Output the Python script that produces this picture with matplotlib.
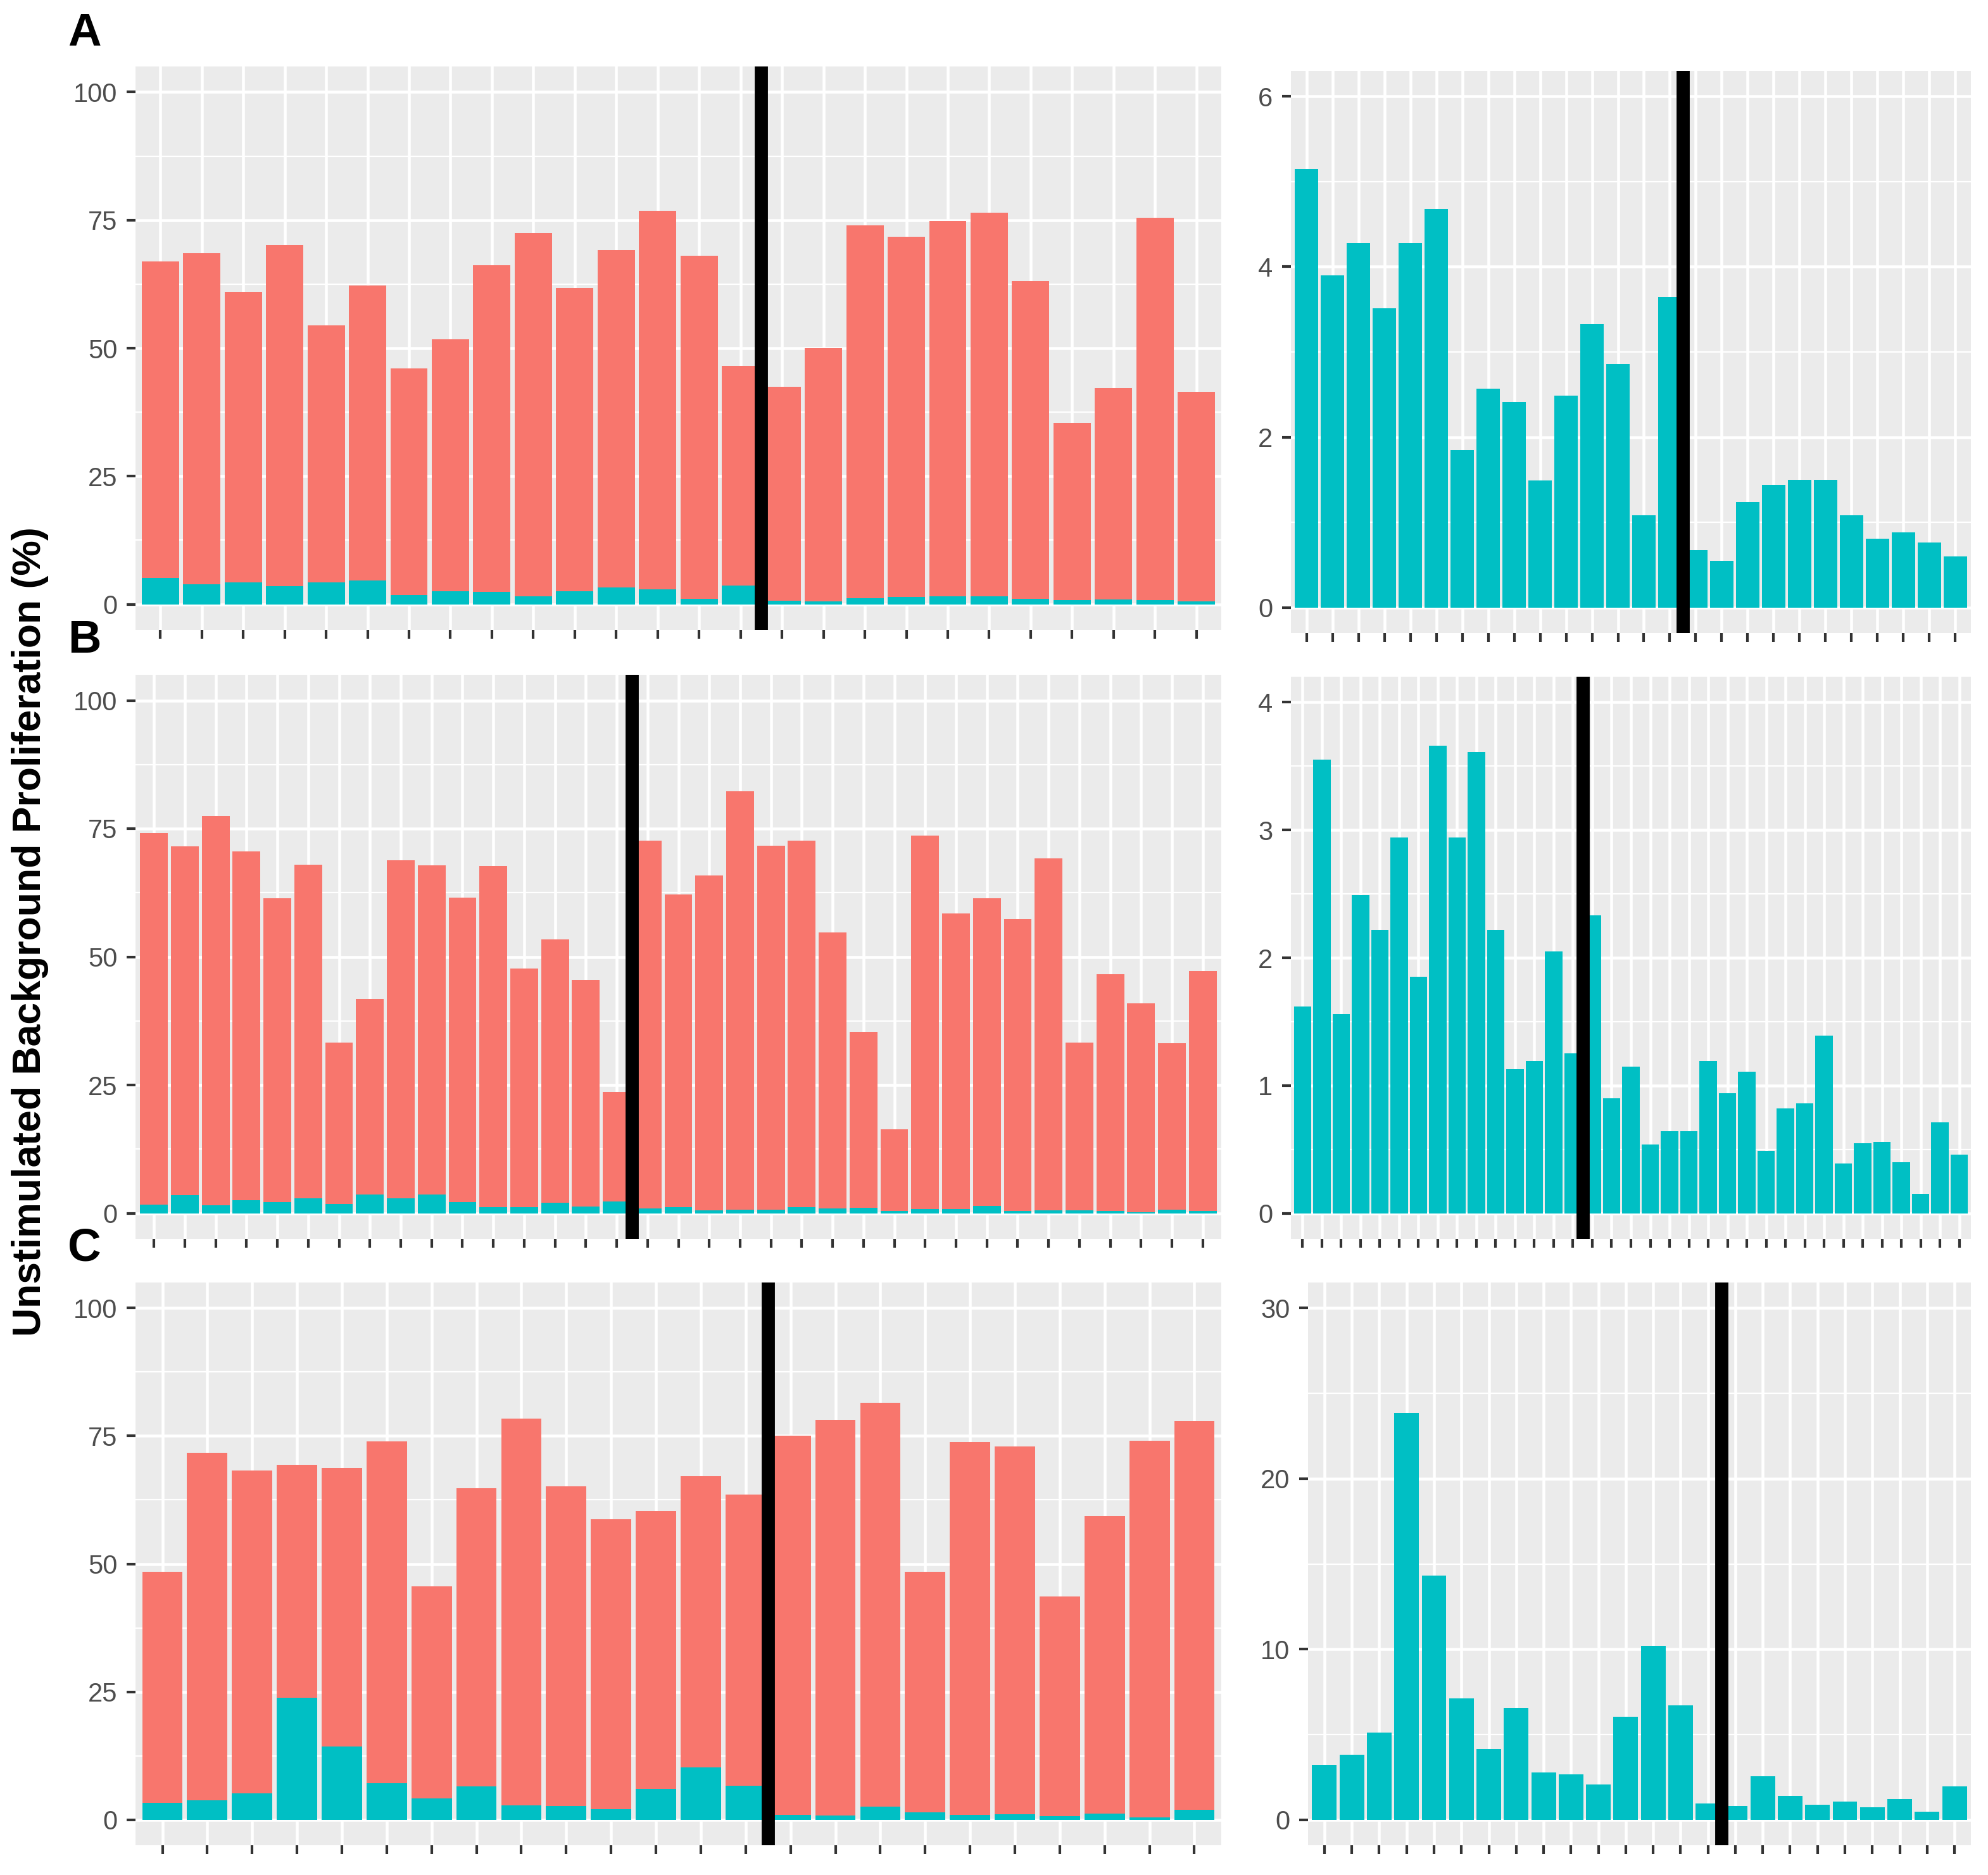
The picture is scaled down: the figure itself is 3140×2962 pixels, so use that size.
import matplotlib
matplotlib.use("Agg")
import matplotlib.pyplot as plt
import numpy as np

plt.rcParams['font.family'] = ['Liberation Sans', 'DejaVu Sans']

# totals (salmon) and unstimulated part (cyan) for each donor
a_total = [66.9, 68.6, 61.0, 70.2, 54.4, 62.2, 46.0, 51.7, 66.2, 72.5, 61.7, 69.1, 76.8,
           68.1, 46.6, 42.4, 50.0, 74.0, 71.8, 74.9, 76.5, 63.1, 35.4, 42.2, 75.4, 41.5]
a_cyan = [5.15, 3.90, 4.28, 3.51, 4.28, 4.68, 1.85, 2.57, 2.41, 1.49, 2.49, 3.33, 2.86,
          1.08, 3.65, 0.67, 0.55, 1.24, 1.44, 1.50, 1.50, 1.08, 0.81, 0.88, 0.76, 0.60]

b_total = [74.1, 71.5, 77.5, 70.6, 61.4, 68.0, 33.3, 41.8, 68.8, 67.8, 61.6, 67.7, 47.7,
           53.4, 45.5, 23.7, 72.7, 62.2, 65.9, 82.3, 71.7, 72.7, 54.7, 35.4, 16.3, 73.6,
           58.5, 61.4, 57.4, 69.2, 33.3, 46.6, 40.9, 33.1, 47.2]
b_cyan = [1.62, 3.55, 1.56, 2.49, 2.22, 2.94, 1.85, 3.66, 2.94, 3.61, 2.22, 1.13, 1.19,
          2.05, 1.25, 2.33, 0.90, 1.15, 0.54, 0.64, 0.64, 1.19, 0.94, 1.11, 0.49, 0.82,
          0.86, 1.39, 0.39, 0.55, 0.56, 0.40, 0.15, 0.71, 0.46]

c_total = [48.5, 71.7, 68.2, 69.4, 68.7, 74.0, 45.6, 64.8, 78.4, 65.1, 58.7, 60.3, 67.1,
           63.5, 75.0, 78.1, 81.5, 48.5, 73.8, 72.9, 43.6, 59.3, 74.1, 77.9]
c_cyan = [3.23, 3.82, 5.09, 23.86, 14.32, 7.10, 4.14, 6.55, 2.77, 2.65, 2.06, 6.02, 10.18,
          6.69, 0.96, 0.81, 2.56, 1.39, 0.88, 1.05, 0.72, 1.20, 0.48, 1.96]

# position of the black separator (left panel, right panel)
a_split = (15.5, 15.5)
b_split = (16.5, 15.5)
c_split = (14.5, 15.5)

SALMON = '#F8766D'
CYAN = '#00BFC4'
W, H = 3140, 2962
fig = plt.figure(figsize=(W / 300, H / 300), dpi=300)


def box(x0, y0, x1, y1):
    # pixel box -> figure fraction
    return [x0 / W, 1 - y1 / H, (x1 - x0) / W, (y1 - y0) / H]


def style(ax, n, ymax, major, minor):
    ax.set_facecolor('#EBEBEB')
    for s in ax.spines.values():
        s.set_visible(False)
    ax.set_xlim(0.4, n + 0.6)
    ax.set_ylim(-0.05 * ymax, 1.05 * ymax)
    ax.set_xticks(np.arange(1, n + 1))
    ax.set_xticklabels([])
    ax.set_yticks(major)
    ax.set_yticklabels([f'{v:g}' for v in major])
    ax.set_yticks(minor, minor=True)
    ax.grid(True, which='major', color='white', lw=1.1)
    ax.grid(True, which='minor', axis='y', color='white', lw=0.55)
    ax.set_axisbelow(True)
    ax.tick_params(axis='both', which='major', length=3.4, width=1.0, color='#333333',
                   labelsize=10, labelcolor='#4D4D4D', pad=3.5)
    ax.tick_params(axis='both', which='minor', length=0)


rows = [
    (a_total, a_cyan, a_split, (105, 995), (112, 1000), 2039, 6, [0, 2, 4, 6], [1, 3, 5]),
    (b_total, b_cyan, b_split, (1066, 1957), (1069, 1957), 2039, 4, [0, 1, 2, 3, 4],
     [0.5, 1.5, 2.5, 3.5]),
    (c_total, c_cyan, c_split, (2026, 2915), (2026, 2915), 2066, 30, [0, 10, 20, 30],
     [5, 15, 25]),
]

for total, cyan, split, ly, ry, rx0, rmax, rmaj, rmin in rows:
    n = len(total)
    x = np.arange(1, n + 1)

    ax = fig.add_axes(box(214, ly[0], 1929, ly[1]))
    ax.bar(x, total, width=0.9, color=SALMON, zorder=2)
    ax.bar(x, cyan, width=0.9, color=CYAN, zorder=2)
    ax.axvline(split[0], color='black', lw=5, zorder=3)
    style(ax, n, 100, [0, 25, 50, 75, 100], [12.5, 37.5, 62.5, 87.5])

    ax2 = fig.add_axes(box(rx0, ry[0], 3113, ry[1]))
    ax2.bar(x, cyan, width=0.9, color=CYAN, zorder=2)
    ax2.axvline(split[1], color='black', lw=5, zorder=3)
    style(ax2, n, rmax, rmaj, rmin)

for lab, yc in [('A', 53), ('B', 1012), ('C', 1973)]:
    fig.text(107 / W, 1 - yc / H, lab, fontsize=17.5, fontweight='bold',
             ha='left', va='center')

fig.text(48 / W, 1 - 1472 / H, 'Unstimulated Background Proliferation (%)',
         rotation=90, fontsize=15, fontweight='bold', ha='center', va='center')

fig.savefig('out.png', dpi=300)
